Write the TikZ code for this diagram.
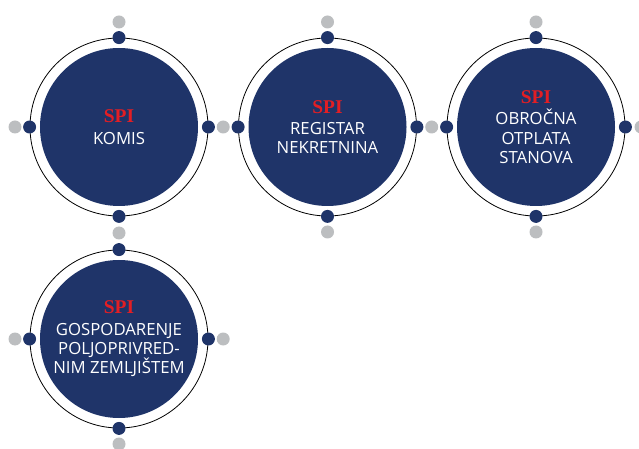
\documentclass[tikz,border=0pt]{standalone}
\usepackage{fontspec}
\setmainfont{Liberation Serif}
\newfontfamily\boxfont{Open Sans}
\usepackage{tikz}

\definecolor{spinavy}{HTML}{1F3469}
\definecolor{spigray}{HTML}{BCBEC0}
\definecolor{spired}{HTML}{E31E24}
\newcommand{\spi}{{\rmfamily\bfseries\fontsize{19.5}{19.5}\selectfont\color{spired}SPI}}

\tikzset{
	disk/.style={shape=circle, fill=spinavy, minimum size=158bp, inner sep=0pt, text=white, align=center, font=\boxfont\fontsize{16.8}{19.5}\selectfont},
	ring/.style={shape=circle, draw=black, line width=0.8bp, minimum size=178bp, inner sep=0pt},
	dot/.style={shape=circle, fill=spinavy, minimum size=13bp, inner sep=0pt},
	graydot/.style={shape=circle, fill=spigray, minimum size=13bp, inner sep=0pt}
}

\begin{document}
\begin{tikzpicture}[x=1bp, y=-1bp]
	
	\useasboundingbox (0,0) rectangle (639,449);
	
	% rings
	\node[ring] (komisring) at (119,127) {};
	\node[ring] (registarring) at (327.5,127) {};
	\node[ring] (otplataring) at (536,127) {};
	\node[ring] (zemljisteing) at (119,339) {};
	
	% disks with labels
	\node[disk] (komis) at (119,127) {\spi\\[2pt]KOMIS};
	\node[disk] (registar) at (327.5,127) {\spi\\[2pt]REGISTAR\\NEKRETNINA};
	\node[disk] (otplata) at (536,127) {\spi\\[2pt]OBROČNA\\OTPLATA\\STANOVA};
	\node[disk] (zemljiste) at (119,339) {\spi\\[2pt]GOSPODARENJE\\POLJOPRIVRED-\\NIM ZEMLJIŠTEM};
	
	% gray dots
	\node[graydot] (g1) at (119,22) {};
	\node[graydot] (g2) at (327.5,22) {};
	\node[graydot] (g3) at (536,22) {};
	\node[graydot] (g4) at (15,127) {};
	\node[graydot] (g5) at (223.2,127) {};
	\node[graydot] (g6) at (431.7,127) {};
	\node[graydot] (g7) at (641,127) {};
	\node[graydot] (g8) at (119,233) {};
	\node[graydot] (g9) at (327.5,232) {};
	\node[graydot] (g10) at (536,232) {};
	\node[graydot] (g11) at (15,339) {};
	\node[graydot] (g12) at (223.2,339) {};
	\node[graydot] (g13) at (119,444) {};
	
	% dots on the rings
	\node[dot] (komisN) at (komisring.north) {};
	\node[dot] (komisS) at (komisring.south) {};
	\node[dot] (komisW) at (komisring.west) {};
	\node[dot] (komisE) at (komisring.east) {};
	\node[dot] (registarN) at (registarring.north) {};
	\node[dot] (registarS) at (registarring.south) {};
	\node[dot] (registarW) at (registarring.west) {};
	\node[dot] (registarE) at (registarring.east) {};
	\node[dot] (otplataN) at (otplataring.north) {};
	\node[dot] (otplataS) at (otplataring.south) {};
	\node[dot] (otplataW) at (otplataring.west) {};
	\node[dot] (otplataE) at (otplataring.east) {};
	\node[dot] (zemljisteN) at (zemljisteing.north) {};
	\node[dot] (zemljisteS) at (zemljisteing.south) {};
	\node[dot] (zemljisteW) at (zemljisteing.west) {};
	\node[dot] (zemljisteE) at (zemljisteing.east) {};
	
\end{tikzpicture}
\end{document}
